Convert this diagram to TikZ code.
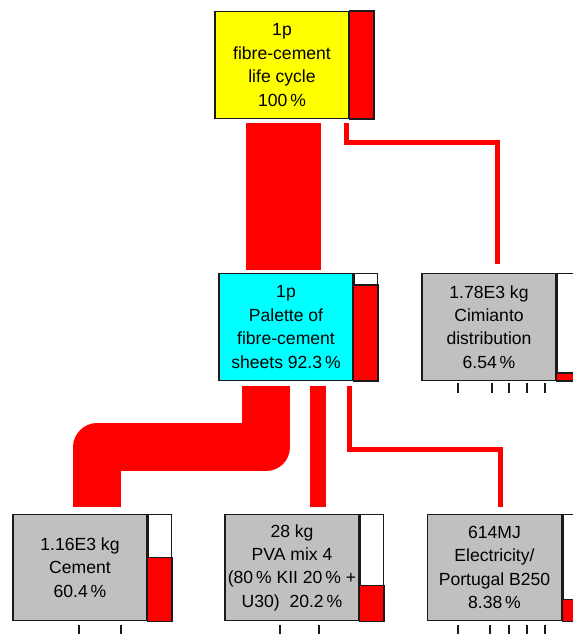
\documentclass[tikz,border=0pt]{standalone}
\usepackage{fontspec}
\setmainfont{Liberation Sans}
\usepackage{tikz}
\usetikzlibrary{positioning, calc}
\usepackage{xcolor}
\definecolor{FlowRed}{HTML}{FF0000}
\definecolor{BoxGray}{HTML}{C0C0C0}
\definecolor{BoxYellow}{HTML}{FFFF00}
\definecolor{BoxCyan}{HTML}{00FFFF}
\definecolor{EdgeBlack}{HTML}{1A1A1A}
\tikzset{
    % Node styles
    processbox/.style={
        rectangle,
        draw=EdgeBlack,
        fill=BoxGray,
        line width=0.8pt,
        minimum width=2.68cm,
        minimum height=2.13cm,
        inner sep=0pt,
        align=center,
        font=\fontsize{10}{13.3}\selectfont
    },
    barbox/.style={
        rectangle,
        draw=EdgeBlack,
        fill=white,
        line width=0.8pt,
        minimum width=0.46cm,
        minimum height=2.13cm,
        inner sep=0pt,
        anchor=north west
    },
    barfill/.style={
        draw=EdgeBlack,
        fill=FlowRed,
        line width=0.8pt
    },
    % Flow styles
    flowband/.style={
        draw=FlowRed,
        line join=round
    },
    thinflow/.style={
        draw=FlowRed,
        line width=0.1cm
    },
    tickmark/.style={
        draw=EdgeBlack,
        line width=0.8pt
    }
}
\begin{document}
\begin{tikzpicture}[x=0.02cm, y=-0.02cm]
    \clip (0,0) rectangle (573,634);
    \fill[white] (0,0) rectangle (573,634);

    % Process boxes
    \node[processbox, fill=BoxYellow] (life) at (282,65) {1p\\fibre-cement\\life cycle\\100\,\%};
    \node[processbox, fill=BoxCyan] (palette) at (286,327) {1p\\Palette of\\fibre-cement\\sheets 92.3\,\%};
    \node[processbox] (cimianto) at (489,327) {1.78E3 kg\\Cimianto\\distribution\\6.54\,\%};
    \node[processbox] (cement) at (80,567.5) {1.16E3 kg\\Cement\\60.4\,\%};
    \node[processbox] (pva) at (292,567.5) {28 kg\\PVA mix 4\\(80\,\% KII 20\,\% +\\U30) \ 20.2\,\%};
    \node[processbox] (elec) at (494.5,567.5) {614MJ\\Electricity/\\Portugal B250\\8.38\,\%};

    % Share bars
    \node[barbox] (lifebar) at (life.north east) {};
    \node[barbox] (palettebar) at (palette.north east) {};
    \node[barbox] (cimiantobar) at (cimianto.north east) {};
    \node[barbox] (cementbar) at (cement.north east) {};
    \node[barbox] (pvabar) at (pva.north east) {};
    \node[barbox] (elecbar) at (elec.north east) {};
    \draw[barfill] (lifebar.south west) rectangle (lifebar.north east);
    \draw[barfill] (palettebar.south west) rectangle ([yshift=1.92cm]palettebar.south east);
    \draw[barfill] (cimiantobar.south west) rectangle ([yshift=0.16cm]cimiantobar.south east);
    \draw[barfill] (cementbar.south west) rectangle ([yshift=1.28cm]cementbar.south east);
    \draw[barfill] (pvabar.south west) rectangle ([yshift=0.72cm]pvabar.south east);
    \draw[barfill] (elecbar.south west) rectangle ([yshift=0.44cm]elecbar.south east);

    % Flows
    \draw[flowband, line width=1.5cm] ([xshift=0.03cm,yshift=-0.08cm]life.south) -- ([xshift=0.03cm,yshift=0.06cm]life.south |- palette.north);
    \draw[thinflow] ([xshift=-0.07cm,yshift=-0.08cm]life.south east) -- ++(0,19.5) -| ([xshift=0.17cm,yshift=0.18cm]cimianto.north);
    \draw[flowband, line width=0.96cm] ([xshift=-0.4cm,yshift=-0.1cm]palette.south) -- ++(0,61.5) -| ([xshift=0.34cm,yshift=0.14cm]cement.north);
    \draw[flowband, line width=0.32cm] ([xshift=0.64cm,yshift=-0.1cm]palette.south) -- ([xshift=0.64cm,yshift=0.14cm]palette.south |- pva.north);
    \draw[thinflow] ([xshift=-0.09cm,yshift=-0.1cm]palette.south east) -- ++(0,64) -| ([xshift=0.11cm,yshift=0.14cm]elec.north);

    % Scale ticks
    \foreach \x in {458,492,509,527,545}
        \draw[tickmark] (\x,383) -- (\x,393);
    \foreach \x in {458,490,509,527,545}
        \draw[tickmark] (\x,625) -- (\x,634);
    \foreach \x in {79,121}
        \draw[tickmark] (\x,625) -- (\x,634);
    \foreach \x in {280,319}
        \draw[tickmark] (\x,625) -- (\x,634);
\end{tikzpicture}
\end{document}
